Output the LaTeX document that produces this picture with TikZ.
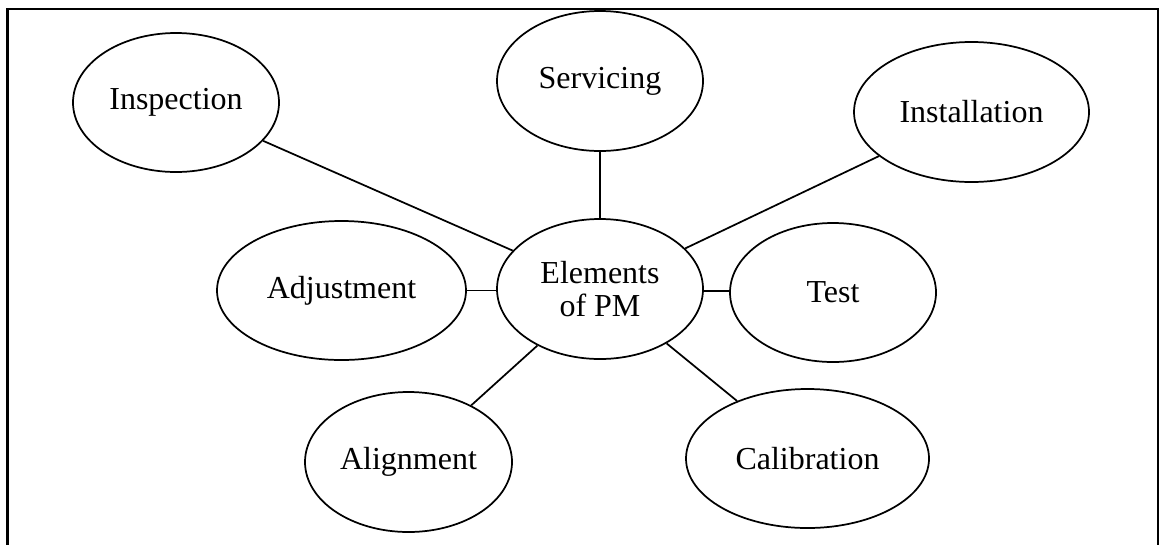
\documentclass[tikz,border=0pt]{standalone}
\usepackage{fontspec}
\setmainfont{Liberation Serif}
\usetikzlibrary{shapes.geometric}
\begin{document}
\begin{tikzpicture}[x=0.75pt,y=-0.75pt,
  bubble/.style={draw,ellipse,line width=1.3pt,inner sep=0pt,align=center,
    font=\fontsize{24}{25}\selectfont},
  size/.style args={#1x#2}{minimum width={#1*0.75pt},minimum height={#2*0.75pt}},
  link/.style={line width=1.3pt}]
\useasboundingbox (0,0) rectangle (1159,544);
\clip (0,0) rectangle (1159,544);
% outer frame
\draw[line width=1.6pt] (7.5,560) -- (7.5,9) -- (1157.8,9) -- (1157.8,560);
% centre and elements
\node[bubble,size=206x140] (pm) at (600,289) {Elements\\of PM};
\node[bubble,size=206x139] (insp) at (176,102.5) {Inspection};
\node[bubble,size=206x140] (serv) at (600,81) {Servicing};
\node[bubble,size=235x140] (inst) at (971.5,112) {Installation};
\node[bubble,size=249x139] (adj) at (341.5,290.5) {Adjustment};
\node[bubble,size=206x139] (test) at (833,292.5) {Test};
\node[bubble,size=207x140] (align) at (408.5,462) {Alignment};
\node[bubble,size=243x139] (cal) at (807.5,458.5) {Calibration};
% connectors
\draw[link] (insp) -- (pm);
\draw[link] (serv) -- (pm);
\draw[link] (inst) -- (pm);
\draw[link] (adj.east) -- (pm.west |- adj.east);
\draw[link] (pm.east |- 0,290.7) -- (test.west |- 0,290.7);
\draw[link] (align) -- (pm);
\draw[link] (cal) -- (pm);
\end{tikzpicture}
\end{document}
